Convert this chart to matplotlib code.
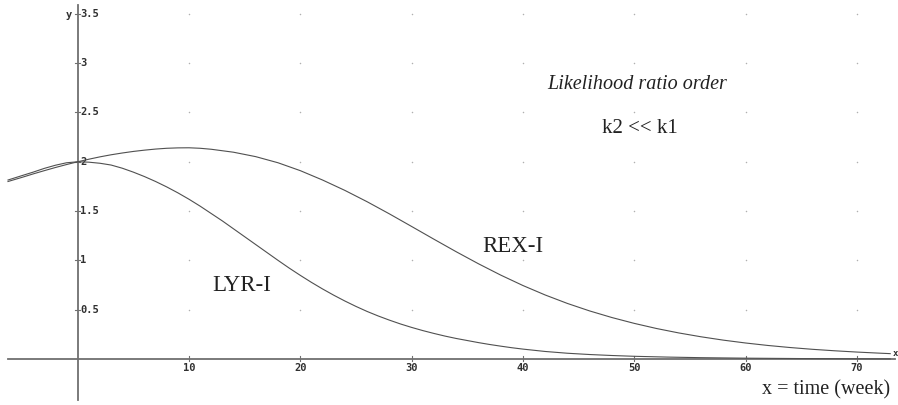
"""LYR-I vs REX-I curves, likelihood ratio order sketch."""

import matplotlib.pyplot as plt

# values
lyr_x = [-6.26, -5, -4, -3, -2, -1, 0, 1, 2, 3, 4, 5, 6, 7, 8, 9, 10, 11, 12,
         13, 14, 15, 16, 17, 18, 19, 20, 21, 22, 23, 24, 25, 26, 27, 28, 29,
         30, 31, 32, 33, 34, 35, 36, 37, 38, 39, 40, 42, 44, 46, 48, 50, 53,
         56, 60, 65, 70, 73]
lyr_y = [1.815, 1.86, 1.895, 1.933, 1.965, 1.99, 2.0, 1.996, 1.985, 1.967,
         1.935, 1.895, 1.85, 1.80, 1.745, 1.685, 1.62, 1.55, 1.475, 1.40,
         1.32, 1.24, 1.16, 1.08, 1.00, 0.922, 0.848, 0.777, 0.71, 0.647,
         0.588, 0.533, 0.482, 0.436, 0.394, 0.355, 0.32, 0.288, 0.259, 0.232,
         0.208, 0.187, 0.166, 0.147, 0.13, 0.114, 0.10, 0.076, 0.058, 0.045,
         0.035, 0.027, 0.019, 0.013, 0.008, 0.004, 0.002, 0.001]

rex_x = [-6.26, -5, -4, -3, -2, -1, 0, 1, 2, 3, 4, 5, 6, 7, 8, 9, 10, 11, 12,
         14, 16, 18, 20, 22, 24, 26, 28, 30, 32, 34, 36, 38, 40, 42, 44, 46,
         48, 50, 52, 54, 56, 58, 60, 62, 64, 66, 68, 70, 72, 73]
rex_y = [1.80, 1.842, 1.877, 1.91, 1.942, 1.972, 2.0, 2.026, 2.05, 2.071,
         2.089, 2.105, 2.118, 2.129, 2.137, 2.141, 2.142, 2.137, 2.127, 2.097,
         2.052, 1.99, 1.91, 1.815, 1.71, 1.595, 1.472, 1.344, 1.215, 1.088,
         0.966, 0.851, 0.745, 0.649, 0.563, 0.487, 0.42, 0.361, 0.309, 0.264,
         0.225, 0.191, 0.162, 0.137, 0.116, 0.098, 0.083, 0.07, 0.059, 0.054]

x_ticks = [10, 20, 30, 40, 50, 60, 70]
x_tick_labels = ["10", "20", "30", "40", "50", "60", "70"]
y_ticks = [0.5, 1, 1.5, 2, 2.5, 3, 3.5]
y_tick_labels = ["0.5", "1", "1.5", "2", "2.5", "3", "3.5"]

AXIS_COLOR = "#707070"
CURVE_COLOR = "#505050"
DOT_COLOR = "#b0b0b0"
LABEL_COLOR = "#303030"
SERIF = "Liberation Serif"
MONO = "DejaVu Sans Mono"


def main() -> None:
    fig = plt.figure(figsize=(8.98, 4.05), dpi=100)
    ax = fig.add_axes([0, 0, 1, 1])
    ax.set_xlim(-6.98, 73.7)
    ax.set_ylim(-0.467, 3.641)
    ax.axis("off")

    # dotted grid points
    gx = [x for x in x_ticks for _ in y_ticks]
    gy = [y for _ in x_ticks for y in y_ticks]
    ax.scatter(gx, gy, s=1.2, color=DOT_COLOR, linewidths=0, zorder=1)

    # axes through the origin
    ax.plot([-6.3, 73.4], [0, 0], color=AXIS_COLOR, lw=1.3, zorder=2)
    ax.plot([0, 0], [-0.42, 3.59], color=AXIS_COLOR, lw=1.3, zorder=2)
    for t in x_ticks:
        ax.plot([t, t], [-0.025, 0.025], color=AXIS_COLOR, lw=0.8, zorder=2)
    for t in y_ticks:
        ax.plot([-0.2, 0.2], [t, t], color=AXIS_COLOR, lw=0.8, zorder=2)

    for t, lab in zip(x_ticks, x_tick_labels):
        ax.text(t, -0.045, lab, ha="center", va="top", fontsize=7.5,
                family=MONO, weight="bold", color=LABEL_COLOR)
    for t, lab in zip(y_ticks, y_tick_labels):
        ax.text(0.25, t, lab, ha="left", va="center", fontsize=7.5,
                family=MONO, weight="bold", color=LABEL_COLOR)
    ax.text(-0.55, 3.49, "y", ha="right", va="center", fontsize=7.5,
            family=MONO, weight="bold", color=LABEL_COLOR)
    ax.text(73.2, 0.06, "x", ha="left", va="center", fontsize=6.5,
            family=MONO, weight="bold", color=LABEL_COLOR)

    # curves
    ax.plot(lyr_x, lyr_y, color=CURVE_COLOR, lw=0.8, zorder=3)
    ax.plot(rex_x, rex_y, color=CURVE_COLOR, lw=0.8, zorder=3)

    # annotations
    ax.text(14.7, 0.75, "LYR-I", ha="center", va="center", fontsize=16.5,
            family=SERIF, color="#222222")
    ax.text(39.1, 1.14, "REX-I", ha="center", va="center", fontsize=16.5,
            family=SERIF, color="#222222")
    ax.text(50.3, 2.78, "Likelihood ratio order", ha="center", va="center",
            fontsize=14.5, family=SERIF, style="italic", color="#222222")
    ax.text(50.5, 2.34, "k2 << k1", ha="center", va="center", fontsize=15,
            family=SERIF, color="#222222")
    ax.text(67.2, -0.31, "x = time (week)", ha="center", va="center",
            fontsize=14.5, family=SERIF, color="#222222")

    fig.savefig("out.png", dpi=100)
    plt.close(fig)


if __name__ == "__main__":
    main()
